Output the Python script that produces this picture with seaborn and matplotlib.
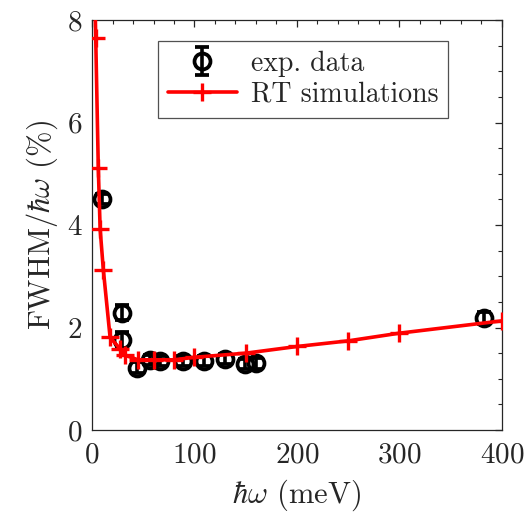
import matplotlib
matplotlib.use("Agg")
import matplotlib.pyplot as plt
import numpy as np
import pandas as pd
import seaborn as sns
from matplotlib.ticker import MultipleLocator

# Experimental FWHM / photon energy (%)
exp_energy = [9.5, 29, 29, 44, 57, 66, 89, 109, 130, 149, 160, 383]
exp_fwhm = [4.51, 2.29, 1.76, 1.22, 1.37, 1.35, 1.34, 1.34, 1.39, 1.29, 1.30, 2.18]
exp_err = [0.10, 0.15, 0.15, 0.10, 0.10, 0.10, 0.10, 0.10, 0.10, 0.10, 0.10, 0.12]

# Ray-tracing simulations
sim_energy = [2, 3.6, 6.1, 7.9, 11, 17.6, 27, 32, 45, 60, 80, 100, 150, 200, 250, 300, 400]
sim_fwhm = [9.3, 7.64, 5.11, 3.92, 3.13, 1.81, 1.59, 1.46, 1.37, 1.37, 1.37, 1.42, 1.50, 1.63, 1.74, 1.89, 2.13]

sns.set_style("white")
plt.rcParams["font.family"] = "serif"
plt.rcParams["font.serif"] = ["cmr10", "DejaVu Serif"]
plt.rcParams["mathtext.fontset"] = "cm"
plt.rcParams["axes.formatter.use_mathtext"] = True

fig = plt.figure(figsize=(5.26, 5.20), dpi=100)
ax = fig.add_axes([0.175, 0.173, 0.779, 0.7885])

sim_df = pd.DataFrame({"energy": sim_energy, "fwhm": sim_fwhm})

ax.errorbar(exp_energy, exp_fwhm, yerr=exp_err, fmt="o", color="black",
            mfc="none", mec="black", ms=11.5, mew=2.7, elinewidth=2.6,
            capsize=5, capthick=2.6, label="exp. data", zorder=3)

sns.lineplot(data=sim_df, x="energy", y="fwhm", sort=False, ax=ax,
             color="red", linewidth=2.6, marker="+", markersize=13,
             markeredgewidth=2.4, markeredgecolor="red",
             label="RT simulations", zorder=4)

ax.set_xlim(0, 400)
ax.set_ylim(0, 8)
ax.xaxis.set_major_locator(MultipleLocator(100))
ax.xaxis.set_minor_locator(MultipleLocator(20))
ax.yaxis.set_major_locator(MultipleLocator(2))
ax.yaxis.set_minor_locator(MultipleLocator(0.5))

axis_color = "#262626"
for s in ax.spines.values():
    s.set_color(axis_color)
    s.set_linewidth(0.9)
ax.tick_params(which="both", direction="in", top=True, right=True,
               color=axis_color, labelsize=21)
ax.tick_params(axis="x", pad=9)
ax.tick_params(axis="y", pad=7)
ax.tick_params(which="major", length=5, width=0.9)
ax.tick_params(which="minor", length=3, width=0.8)

ax.set_xlabel(r"$\hbar\omega$ (meV)", fontsize=22, labelpad=6)
ax.set_ylabel(r"FWHM$/\hbar\omega$ (%)", fontsize=22, labelpad=5)

handles, labels = ax.get_legend_handles_labels()
order = [labels.index("exp. data"), labels.index("RT simulations")]
leg = ax.legend([handles[i] for i in order], [labels[i] for i in order],
                loc="upper center", bbox_to_anchor=(0.515, 0.95), fontsize=20,
                frameon=True, fancybox=False, edgecolor=axis_color,
                handlelength=2.5, borderpad=0.35, labelspacing=0.18,
                handletextpad=0.5, borderaxespad=0.0)
leg.get_frame().set_linewidth(0.9)

fig.savefig("out.png", dpi=100)
